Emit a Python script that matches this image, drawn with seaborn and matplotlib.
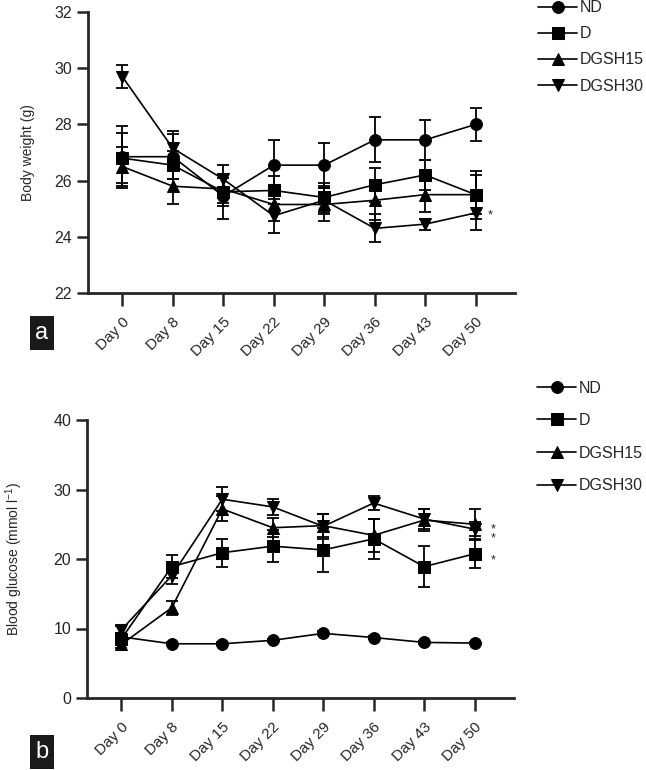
import numpy as np
import pandas as pd
import matplotlib
matplotlib.use('Agg')
import matplotlib.pyplot as plt
import seaborn as sns

# Data
days = ['Day 0', 'Day 8', 'Day 15', 'Day 22', 'Day 29', 'Day 36', 'Day 43', 'Day 50']
groups = ['ND', 'D', 'DGSH15', 'DGSH30']

# panel a: body weight (g), mean and error
bw_nd = [26.85, 26.85, 25.45, 26.55, 26.55, 27.45, 27.45, 28.0]
bw_nd_err = [1.1, 0.8, 0.8, 0.9, 0.8, 0.8, 0.7, 0.6]
bw_d = [26.8, 26.55, 25.6, 25.65, 25.4, 25.85, 26.2, 25.5]
bw_d_err = [0.9, 0.5, 0.5, 0.5, 0.5, 0.6, 0.55, 0.85]
bw_15 = [26.5, 25.8, 25.7, 25.15, 25.15, 25.3, 25.5, 25.5]
bw_15_err = [0.7, 0.65, 0.5, 0.6, 0.6, 0.7, 0.6, 0.7]
bw_30 = [29.7, 27.15, 26.05, 24.75, 25.3, 24.3, 24.45, 24.85]
bw_30_err = [0.4, 0.6, 0.5, 0.6, 0.5, 0.5, 0.2, 0.6]

# panel b: blood glucose (mmol/l), mean and error
bg_nd = [8.8, 7.8, 7.8, 8.3, 9.3, 8.7, 8.0, 7.9]
bg_nd_err = [0.3, 0.2, 0.2, 0.2, 0.3, 0.2, 0.2, 0.2]
bg_d = [8.5, 18.9, 20.9, 21.85, 21.3, 22.9, 18.9, 20.75]
bg_d_err = [0.8, 1.7, 2.0, 2.3, 3.2, 2.9, 3.0, 2.1]
bg_15 = [7.7, 13.0, 27.2, 24.5, 24.8, 23.4, 25.6, 25.0]
bg_15_err = [0.5, 1.0, 1.8, 1.4, 1.7, 2.4, 1.6, 2.2]
bg_30 = [9.8, 17.6, 28.6, 27.5, 24.7, 28.05, 25.75, 24.3]
bg_30_err = [0.5, 1.2, 1.7, 1.2, 1.8, 1.0, 1.5, 1.0]

markers = {'ND': 'o', 'D': 's', 'DGSH15': '^', 'DGSH30': 'v'}

sns.set_style('ticks')
plt.rcParams['font.family'] = ['Liberation Sans', 'DejaVu Sans']


def long_form(series, errors):
    rows = []
    for g, vals, errs in zip(groups, series, errors):
        for i, (v, e) in enumerate(zip(vals, errs)):
            rows.append({'day': i, 'group': g, 'value': v, 'err': e})
    return pd.DataFrame(rows)


def draw_panel(ax, df, ylim, yticks, ylabel, labelpad, legend_pos, legend_space):
    sns.lineplot(data=df, x='day', y='value', style='group', markers=markers,
                 dashes=False, color='black', linewidth=1.2, markersize=8.5,
                 markeredgecolor='black', ax=ax, legend=True)
    for g in groups:
        sub = df[df['group'] == g]
        ax.errorbar(sub['day'], sub['value'], yerr=sub['err'], fmt='none',
                    ecolor='black', elinewidth=1.3, capsize=4, capthick=1.3)
    ax.set_xlim(-0.68, 7.78)
    ax.set_ylim(*ylim)
    ax.set_yticks(yticks)
    ax.set_xticks(range(len(days)))
    ax.set_xticklabels(days, rotation=45, ha='right', rotation_mode='anchor',
                       fontsize=11)
    ax.tick_params(axis='y', labelsize=11.5, length=8, width=1.8)
    ax.tick_params(axis='x', length=9, width=1.8, pad=7)
    ax.set_xlabel('')
    ax.set_ylabel(ylabel, fontsize=10, labelpad=labelpad)
    for s in ['left', 'bottom']:
        ax.spines[s].set_linewidth(2)
    sns.despine(ax=ax)
    handles, labels = ax.get_legend_handles_labels()
    ax.legend(handles, labels, loc='upper left', bbox_to_anchor=legend_pos,
              frameon=False, fontsize=11.5, handlelength=2.4, handletextpad=0.2,
              labelspacing=legend_space, borderaxespad=0)


fig = plt.figure(figsize=(6.46, 7.70), dpi=100)
ax_a = fig.add_axes([88 / 646, 1 - 293 / 770, 427 / 646, 281 / 770])
ax_b = fig.add_axes([87 / 646, 1 - 698 / 770, 427 / 646, 278 / 770])

df_a = long_form([bw_nd, bw_d, bw_15, bw_30],
                 [bw_nd_err, bw_d_err, bw_15_err, bw_30_err])
df_b = long_form([bg_nd, bg_d, bg_15, bg_30],
                 [bg_nd_err, bg_d_err, bg_15_err, bg_30_err])

draw_panel(ax_a, df_a, (22, 32), [22, 24, 26, 28, 30, 32], 'Body weight (g)',
           14, (1.04, 1.065), 0.7)
draw_panel(ax_b, df_b, (0, 40), [0, 10, 20, 30, 40],
           r'Blood glucose (mmol l$^{\mathregular{-1}}$)', 20, (1.04, 1.165), 1.1)

# significance marks
ax_a.text(7.28, 24.75, '*', fontsize=9, ha='center', va='center')
ax_b.text(7.36, 23.6, '*\n*', fontsize=9, ha='center', va='center',
          linespacing=0.75)
ax_b.text(7.36, 19.8, '*', fontsize=9, ha='center', va='center')

# panel letters
fig.text(42 / 646, 1 - 333 / 770, 'a', color='white', fontsize=17,
         ha='center', va='center',
         bbox=dict(boxstyle='square,pad=0.25', fc='#1a1a1a', ec='none'))
fig.text(42 / 646, 1 - 752 / 770, 'b', color='white', fontsize=17,
         ha='center', va='center',
         bbox=dict(boxstyle='square,pad=0.25', fc='#1a1a1a', ec='none'))

fig.savefig('out.png', dpi=100)
